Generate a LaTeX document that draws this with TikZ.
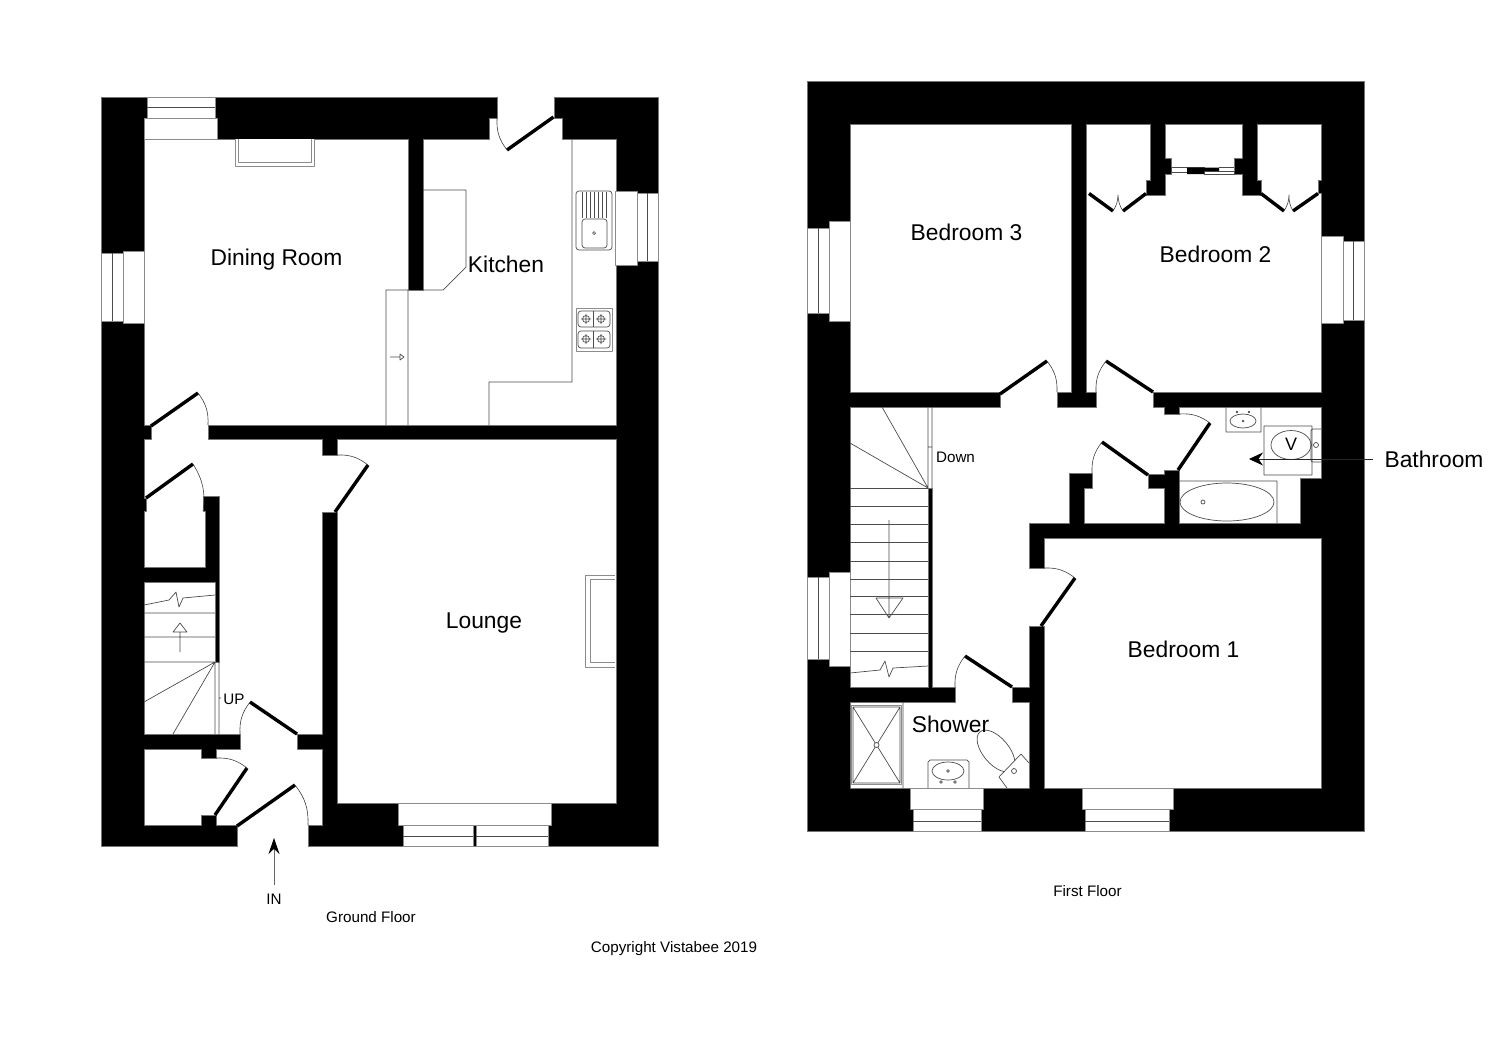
\documentclass[tikz,border=0pt]{standalone}
\usepackage{fontspec}
\setmainfont{Liberation Sans}
\usetikzlibrary{arrows.meta}
\colorlet{planline}{black!55}
\tikzset{
	wall/.style={fill=black,draw=planline,line width=.4pt},
	room/.style={fill=white,draw=planline,line width=.4pt},
	glass/.style={fill=white,draw=black!45,line width=.5pt},
	fitting/.style={draw=black!70,line width=.35pt},
	doorleaf/.style={line width=1.7pt,line cap=butt},
	swing/.style={draw=black!75,line width=.3pt},
	roomlabel/.style={font=\fontsize{11.4}{13}\selectfont,inner sep=0pt},
	smalllabel/.style={font=\fontsize{7.6}{9}\selectfont,inner sep=0pt}
}
\begin{document}
\begin{tikzpicture}[x=.5pt,y=-.5pt,line join=round,>=stealth]
		\useasboundingbox (0,0) rectangle (1500,1057);
		\fill[white] (0,0) rectangle (1500,1057);
		% ground floor
		\draw[wall] (101,97) rectangle (658,846);
		\draw[room] (144,139)--(408,139)--(408,290)--(423,290)--(423,139)--(489,139)--(489,118)--(497,118)--(497,97)--(554,97)--(554,118)--(562,118)--(562,139)--(616,139)--(616,425)--(208,425)--(208,439)--(322,439)--(322,455)--(337,455)--(337,439)--(616,439)--(616,803)--(337,803)--(337,512)--(322,512)--(322,734)--(297,734)--(297,749)--(322,749)--(322,825)--(308,825)--(308,846)--(237,846)--(237,825)--(216,825)--(216,815)--(201,815)--(201,825)--(144,825)--(144,749)--(201,749)--(201,758)--(216,758)--(216,749)--(240,749)--(240,734)--(144,734)--(144,582)--(215,582)--(215,662)--(219,662)--(219,496)--(203,496)--(203,511)--(205,511)--(205,567)--(144,567)--(144,511)--(146,511)--(146,498)--(144,498)--(144,439)--(151,439)--(151,425)--(144,425)--cycle;
		\draw[white,line width=1pt] (497.5,97)--(553.5,97) (237.5,846)--(307.5,846);
		% first floor
		\draw[wall] (807,81) rectangle (1364,831);
		\draw[room] (850,124)--(1071,124)--(1071,392)--(1057,392)--(1057,407)--(1096,407)--(1096,392)--(1086,392)--(1086,124)--(1150,124)--(1150,180)--(1146,180)--(1146,195)--(1165,195)--(1165,174)--(1171,174)--(1171,158)--(1165,158)--(1165,124)--(1242,124)--(1242,158)--(1234,158)--(1234,174)--(1242,174)--(1242,195)--(1261,195)--(1261,180)--(1257,180)--(1257,124)--(1321,124)--(1321,180)--(1318,180)--(1318,193)--(1321,193)--(1321,392)--(1153,392)--(1153,407)--(1164,407)--(1164,414)--(1179,414)--(1179,407)--(1321,407)--(1321,478)--(1300,478)--(1300,523)--(1179,523)--(1179,470)--(1164,470)--(1164,474)--(1148,474)--(1148,488)--(1164,488)--(1164,523)--(1084,523)--(1084,488)--(1092,488)--(1092,473)--(1069,473)--(1069,523)--(1029,523)--(1029,568)--(1044,568)--(1044,538)--(1321,538)--(1321,788)--(1044,788)--(1044,626)--(1029,626)--(1029,687)--(1012,687)--(1012,702)--(1029,702)--(1029,788)--(850,788)--(850,702)--(955,702)--(955,687)--(932,687)--(932,488)--(928,488)--(928,687)--(850,687)--(850,407)--(1000,407)--(1000,392)--(850,392)--cycle;
		% windows
		\foreach \a/\b/\c/\d in {144/118/217/139,147/97/215/118,123/251/144/323,101/253/123/321,615/191/637/265,637/193/658/261,398/803/551/825,403/825/473/846,476/825/548/846,
			829/221/850/321,807/228/829/313,1321/236/1343/323,1343/241/1364/320,829/572/850/666,807/577/829/659,1082/788/1173/809,1085/809/1169/831,910/788/983/809,913/809/981/831}
			\draw[glass] (\a,\b) rectangle (\c,\d);
		\draw[fitting] (147,107.5)--(215,107.5) (112,253)--(112,321) (647,193)--(647,261) (403,836)--(473,836) (476,836)--(548,836)
		(818,228)--(818,313) (1353,241)--(1353,320) (818,577)--(818,659) (1085,821)--(1169,821) (913,821)--(981,821);
		% doors
		\foreach \hx/\hy/\tx/\ty/\jx/\jy/\b in {151/426/198/393/208/425/left,146/498/193/464/203/511/left,335/512/368/465/337/455/right,553.5/117/507/150/497/118/left,
			297/734/250/702/240/734/right,215/815/247/768/216/758/right,237/826/295/785/308/825/left,1000/394/1047/361/1057/392/left,1153/392/1106/361/1096/392/right,
			1178/470/1210/423/1179/414/right,1148/475/1102/442/1092/473/right,1041/626/1075/578/1044/568/right,1012/687/965/656/955/687/right}{
			\draw[doorleaf] (\hx,\hy)--(\tx,\ty);
			\draw[swing] (\tx,\ty) to[bend \b=20] (\jx,\jy);
		}
		% wardrobes
		\foreach \ax/\bx/\mx/\cx/\dx in {1089/1113/1118/1123/1146,1261/1284/1289/1293/1318}{
			\draw[doorleaf] (\ax,193.5)--(\bx,211) (\cx,211)--(\dx,193.5);
			\draw[swing] (\bx,211) to[bend right=15] (\mx,195) to[bend right=15] (\cx,211);
		}
		\draw[fitting] (1171,167) rectangle (1204,172) (1204,171) rectangle (1234,174) (1219,167)--(1234,167);
		\fill (1187,167.5) rectangle (1219,171) (1187,171) rectangle (1204,174);
		% ground floor stairs
		\draw[fitting] (144,613)--(215,613) (144,637)--(215,637) (144,662)--(215,662) (215,662)--(144,702) (215,662)--(173,734) (215,662)--(215,734) (219,662)--(219,734) (219,698)--(221,698)
		(144,605)--(169,600)--(176,592)--(179,607)--(183,598)--(215,595)
		(180,652)--(180,632) (173,632)--(187,632)--(180,623)--cycle;
		% first floor stairs
		\foreach \y in {488,506,524,542,561,579,596,614,633,651}
			\draw[fitting] (850,\y)--(928,\y);
		\draw[fitting] (928,407)--(928,488) (932,407)--(932,488) (928,447)--(932,447) (928,488)--(850,443) (928,488)--(882,407)
		(850,673)--(880,670)--(885,661)--(889,677)--(893,668)--(928,666)
		(889,520)--(889,618) (876,598)--(903,598)--(889,618)--cycle;
		% kitchen
		\draw[fitting] (572,139)--(572,382)--(489,382)--(489,425) (423,190)--(466,190)--(466,267)--(443,290)--(423,290)
		(386,425)--(386,290)--(408,290) (408,290)--(408,425)
		(390,357)--(400,357) (400,354)--(404,357)--(400,360)--cycle;
		\draw[fitting,rounded corners=1.5pt] (576,191) rectangle (612,250) (582,219) rectangle (607,248);
		\foreach \x in {582,586,...,608}
			\draw[fitting] (\x,192)--(\x,218);
		\draw[fitting] (594,233) circle (1.5);
		\draw[glass] (576,308) rectangle (612,351);
		\draw[fitting,rounded corners=1.5pt] (578,311) rectangle (610,327) (578,331) rectangle (610,348);
		\draw[fitting] (593.5,311)--(593.5,327) (593.5,331)--(593.5,348);
		\foreach \x in {586,601}
			\foreach \y in {319,339}
				\draw[fitting] (\x,\y) circle (3.5) (\x-5,\y)--(\x+5,\y) (\x,\y-5)--(\x,\y+5);
		% fireplaces
		\draw[glass] (235,139)--(235,166)--(314,166)--(314,139) (238,139)--(238,162)--(311,162)--(311,139);
		\draw[glass] (615,575)--(585,575)--(585,667)--(615,667) (615,579)--(590,579)--(590,662)--(615,662);
		% shower room
		\draw[fitting] (903,702)--(903,788) (853,707) rectangle (900,783) (853,707)--(900,783) (900,707)--(853,783);
		\draw[glass] (851.5,705.5) rectangle (901.5,784.5);
		\draw[fitting] (853,707) rectangle (900,783) (853,707)--(900,783) (900,707)--(853,783);
		\draw[fitting,fill=white] (876.5,745) circle (2.5);
		\draw[fitting] (928,788)--(928,762) to[bend left=5] (930,760)--(967,760) to[bend left=5] (969,762)--(969,788);
		\draw[fitting] (948,771) ellipse [x radius=16,y radius=9] (948,771) circle (1.3) (941,782) circle (1.3) (955,782) circle (1.3);
		\draw[fitting,rotate around={-50:(996,751)}] (996,751) ellipse [x radius=25,y radius=13];
		\draw[fitting,fill=white] (1029,763)--(1021,754)--(999,777)--(1007,788);
		\draw[fitting] (1014,771) circle (2.5);
		% bathroom
		\draw[fitting] (1226,407)--(1226,432)--(1261,432)--(1261,407) (1243,421) ellipse [x radius=13,y radius=7] (1243,421) circle (1) (1237,412) circle (.8) (1249,412) circle (.8);
		\draw[fitting] (1179,481)--(1277,481)--(1277,523) (1227,502) ellipse [x radius=47,y radius=19] (1203,502) circle (2);
		\draw[fitting] (1264,426) rectangle (1312,475) (1291,445) ellipse [x radius=20,y radius=14.5];
		\draw[fitting,rounded corners=1pt] (1321,429)--(1311,429)--(1311,462)--(1321,462);
		\draw[fitting] (1316,445) circle (2.5);
		% labels
		\node[roomlabel] (dining) at (276.5,259.5) {Dining Room};
		\node[roomlabel] (kitchen) at (506,264) {Kitchen};
		\node[roomlabel] (lounge) at (484,623.5) {Lounge};
		\node[smalllabel] (uplabel) at (234,699) {UP};
		\node[smalllabel] (inlabel) at (274,899) {IN};
		\node[smalllabel] (groundfloor) at (371,917) {Ground Floor};
		\node[smalllabel] (firstfloor) at (1087.5,891.5) {First Floor};
		\node[smalllabel] (copyrightline) at (674,948.5) {Copyright Vistabee 2019};
		\node[roomlabel] (bedthree) at (966.5,232) {Bedroom 3};
		\node[roomlabel] (bedtwo) at (1215.5,254) {Bedroom 2};
		\node[roomlabel] (bedone) at (1183.5,649) {Bedroom 1};
		\node[smalllabel] (downlabel) at (955.5,457.5) {Down};
		\node[roomlabel] (showerlabel) at (950.5,724) {Shower};
		\node[roomlabel] (bathlabel) at (1434,459) {Bathroom};
		\node[font=\fontsize{9}{10}\selectfont,inner sep=0pt] (vlabel) at (1291,444) {V};
		% arrows
		\coordinate (intip) at (274,838);
		\coordinate (infoot) at (274,885);
		\coordinate (bathtip) at (1249,459);
		\coordinate (bathstart) at (1373,459);
		\draw[-{Stealth[length=8pt,width=5.5pt,black]},black!60] (infoot)--(intip);
		\draw[-{Stealth[length=7pt,width=6.5pt,black]},black!85] (bathstart)--(bathtip);
	\end{tikzpicture}
\end{document}
